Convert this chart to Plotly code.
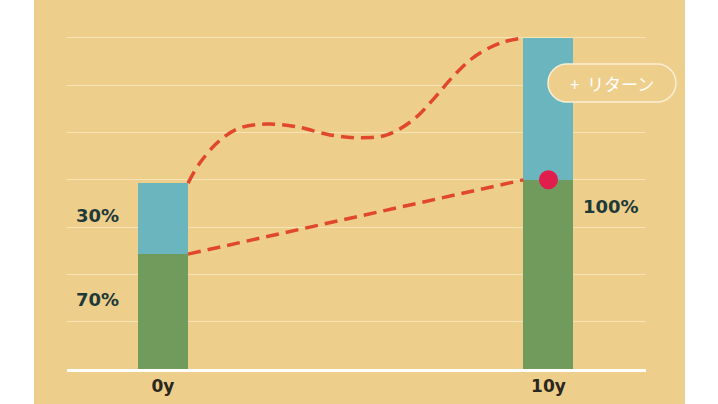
import plotly.graph_objects as go

# ---- data ----
years = [0, 10]
tick_labels = ["0y", "10y"]
green_vals = [2.43, 4.0]     # base (70% / 100%)
blue_vals = [1.5, 3.0]       # return part
pct_labels = ["30%", "70%", "100%"]
pct_x = [-1.71, -1.71, 11.62]
pct_y = [3.24, 1.46, 3.43]

curve_x = [0.65, 0.96, 1.48, 2.0, 2.7, 3.48, 4.33, 5.11, 5.81, 6.49, 7.0, 7.52, 8.04, 8.74, 9.35]
curve_y = [3.93, 4.36, 4.84, 5.10, 5.18, 5.12, 4.95, 4.89, 4.95, 5.27, 5.69, 6.18, 6.58, 6.89, 7.0]
line_x = [0.65, 9.35]
line_y = [2.43, 4.0]
dot_x = [10]
dot_y = [4.0]
button_text = "+\u00a0\u00a0リターン"

BEIGE = "#EECE8B"
BLUE = "#6BB5BE"
GREEN = "#719B5C"
RED = "#E0472B"
DOT = "#E01D4C"
DARK = "#1D3A39"

W, H = 718, 404
L, R, T, B = 67, 72, 0, 35
pw = W - L - R
ph = H - T - B

fig = go.Figure()
fig.add_bar(x=years, y=green_vals, width=1.297, marker=dict(color=GREEN, line=dict(width=0)),
            hoverinfo="skip")
fig.add_bar(x=years, y=blue_vals, width=1.297, marker=dict(color=BLUE, line=dict(width=0)),
            hoverinfo="skip")
fig.add_scatter(x=curve_x, y=curve_y, mode="lines",
                line=dict(color=RED, width=3.5, dash="13px,7px", shape="spline", smoothing=1))
fig.add_scatter(x=line_x, y=line_y, mode="lines",
                line=dict(color=RED, width=3.5, dash="13px,7px"))
fig.add_scatter(x=dot_x, y=dot_y, mode="markers",
                marker=dict(color=DOT, size=19, line=dict(width=0)))

for t, x, y in zip(pct_labels, pct_x, pct_y):
    fig.add_annotation(x=x, y=y, text=t, showarrow=False, xanchor="center", yanchor="middle",
                       font=dict(family="DejaVu Sans", size=18, color=DARK, weight=700))

# beige panel
fig.add_shape(type="rect", xref="paper", yref="paper",
              x0=(34 - L) / pw, x1=(685 - L) / pw, y0=(ph - (H - T)) / ph, y1=(ph + T) / ph,
              fillcolor=BEIGE, line=dict(width=0), layer="below")

# pill button
cx = (612 - L) / pw
cy = (ph - (83 - T)) / ph
hw, r = 64, 19
s = hw - r
k = 0.5523 * r
path = (f"M {-s},{r} L {s},{r} C {s + k},{r} {hw},{k} {hw},0 C {hw},{-k} {s + k},{-r} {s},{-r} "
        f"L {-s},{-r} C {-s - k},{-r} {-hw},{-k} {-hw},0 C {-hw},{k} {-s - k},{r} {-s},{r} Z")
fig.add_shape(type="path", xref="paper", yref="paper", xsizemode="pixel", ysizemode="pixel",
              xanchor=cx, yanchor=cy, path=path,
              fillcolor=BEIGE, line=dict(color="#FAEFD6", width=1.5), layer="above")
fig.add_annotation(xref="paper", yref="paper", x=cx, y=cy, text=button_text, showarrow=False,
                   xanchor="center", yanchor="middle",
                   font=dict(family="Noto Sans CJK JP", size=17, color="white"))

fig.update_layout(
    width=W, height=H, margin=dict(l=L, r=R, t=T, b=B),
    paper_bgcolor="white", plot_bgcolor="rgba(0,0,0,0)",
    barmode="stack", showlegend=False,
    xaxis=dict(range=[-2.49, 12.53], tickvals=years, ticktext=tick_labels, showgrid=False,
               zeroline=False, showline=True, linecolor="white", linewidth=3, ticks="",
               tickfont=dict(family="DejaVu Sans", size=17, color="#2A2620", weight=700),
               fixedrange=True),
    yaxis=dict(range=[0, 7.803], dtick=1, tick0=0, showgrid=True, gridcolor="#F6E3B8",
               gridwidth=1, zeroline=False, showticklabels=False, ticks="", fixedrange=True),
)

fig.write_html("out.html", config={"displayModeBar": False},
               post_script="document.body.style.margin='0';")
